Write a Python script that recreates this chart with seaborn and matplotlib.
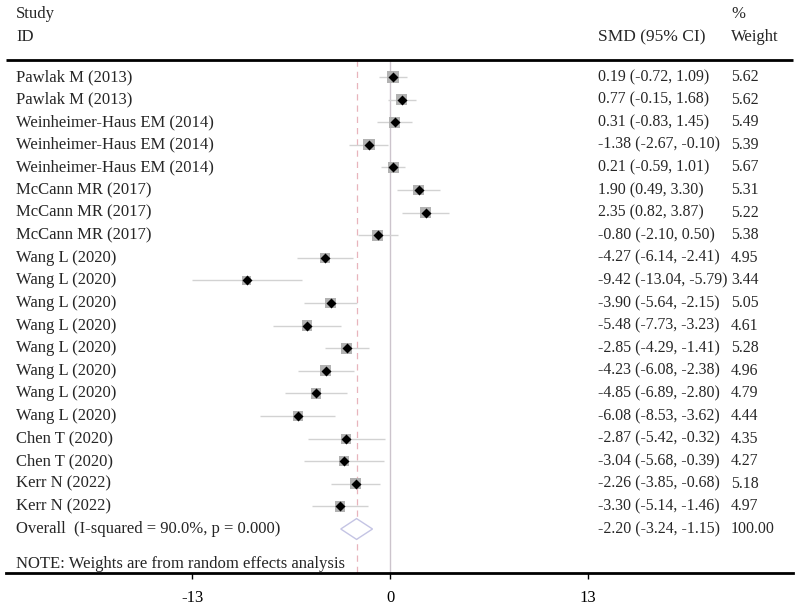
import matplotlib
matplotlib.use("Agg")
import matplotlib.pyplot as plt
import matplotlib.transforms as mtransforms
import seaborn as sns
import pandas as pd
import numpy as np

studies = ["Pawlak M (2013)", "Pawlak M (2013)", "Weinheimer-Haus EM (2014)",
           "Weinheimer-Haus EM (2014)", "Weinheimer-Haus EM (2014)", "McCann MR (2017)",
           "McCann MR (2017)", "McCann MR (2017)", "Wang L (2020)", "Wang L (2020)",
           "Wang L (2020)", "Wang L (2020)", "Wang L (2020)", "Wang L (2020)",
           "Wang L (2020)", "Wang L (2020)", "Chen T (2020)", "Chen T (2020)",
           "Kerr N (2022)", "Kerr N (2022)"]
smd = [0.19, 0.77, 0.31, -1.38, 0.21, 1.90, 2.35, -0.80, -4.27, -9.42,
       -3.90, -5.48, -2.85, -4.23, -4.85, -6.08, -2.87, -3.04, -2.26, -3.30]
ci_low = [-0.72, -0.15, -0.83, -2.67, -0.59, 0.49, 0.82, -2.10, -6.14, -13.04,
          -5.64, -7.73, -4.29, -6.08, -6.89, -8.53, -5.42, -5.68, -3.85, -5.14]
ci_high = [1.09, 1.68, 1.45, -0.10, 1.01, 3.30, 3.87, 0.50, -2.41, -5.79,
           -2.15, -3.23, -1.41, -2.38, -2.80, -3.62, -0.32, -0.39, -0.68, -1.46]
weights = [5.62, 5.62, 5.49, 5.39, 5.67, 5.31, 5.22, 5.38, 4.95, 3.44,
           5.05, 4.61, 5.28, 4.96, 4.79, 4.44, 4.35, 4.27, 5.18, 4.97]
overall_label = "Overall  (I-squared = 90.0%, p = 0.000)"
overall_est, overall_lo, overall_hi, overall_w = -2.20, -3.24, -1.15, 100.00
note = "NOTE: Weights are from random effects analysis"
xticks = [-13, 0, 13]

W, H = 798, 608
sns.set_theme(style="white")
plt.rcParams['font.family'] = ['Liberation Serif', 'DejaVu Serif']

fig = plt.figure(figsize=(W / 100, H / 100), dpi=100)
ax = fig.add_axes([0, 0, 1, 1])

# pixel mapping
px_per_unit = 15.2
zero_px = 390
row0_px = 77
row_px = 22.6
ax.set_xlim(-zero_px / px_per_unit, (W - zero_px) / px_per_unit)
ax.set_ylim((H - row0_px) / row_px, -row0_px / row_px)

def py(p):
    return (p - row0_px) / row_px

def px(p):
    return (p - zero_px) / px_per_unit

df = pd.DataFrame({"study": studies, "smd": smd, "lo": ci_low, "hi": ci_high,
                   "w": weights})
df["row"] = np.arange(len(df))

top_y = py(60)
axis_y = py(573)

# reference lines
ax.vlines(0, top_y, axis_y, color="#ccc4cc", lw=1.0, zorder=1)
ax.vlines(overall_est, top_y, axis_y, color="#e8b4bc", lw=0.9,
          linestyles=(0, (5, 4)), zorder=1)

# whiskers
ax.hlines(df["row"], df["lo"], df["hi"], color="#d2d2d2", lw=1.0, zorder=2)

# weight squares
sq_scale = 66.0 / 5.62
ax.scatter(df["smd"], df["row"], s=df["w"] * sq_scale, marker="s",
           color="#b2b2b2", linewidths=0, zorder=3)
# point estimates
sns.scatterplot(data=df, x="smd", y="row", marker="D", s=26, color="black",
                edgecolor="black", linewidth=0, ax=ax, zorder=4, legend=False)

# overall diamond
orow = len(df)
hh = 0.46
ax.fill([overall_lo, overall_est, overall_hi, overall_est],
        [orow, orow - hh, orow, orow + hh], facecolor="white",
        edgecolor="#c4c4e4", lw=1.0, zorder=3)

ax.set_xlabel("")
ax.set_ylabel("")

# horizontal rules
ax.hlines(top_y, px(6), px(793), color="black", lw=2.0, zorder=5)

# bottom axis
for s in ["top", "left", "right"]:
    ax.spines[s].set_visible(False)
ax.spines["bottom"].set_position(("data", axis_y))
ax.spines["bottom"].set_bounds(px(6), px(793))
ax.spines["bottom"].set_linewidth(2.0)
ax.spines["bottom"].set_color("black")
ax.set_xticks(xticks)
ax.set_xticklabels([str(t) for t in xticks])
ax.tick_params(axis="x", direction="out", length=4, width=1, pad=8,
               labelsize=12, colors="black", bottom=True)
ax.set_yticks([])
ax.grid(False)

tr = mtransforms.blended_transform_factory(ax.transAxes, ax.transData)
fs = 12
fs_num = 11.4
lx = 16 / W
cx = 598 / W
wx = 731 / W

ax.text(lx, py(14), "Study", transform=tr, fontsize=fs, va="center", ha="left")
ax.text(lx, py(37), "ID", transform=tr, fontsize=fs, va="center", ha="left")
ax.text(cx, py(37), "SMD (95% CI)", transform=tr, fontsize=12.5, va="center", ha="left")
ax.text(wx, py(14), "%", transform=tr, fontsize=fs, va="center", ha="left")
ax.text(wx, py(37), "Weight", transform=tr, fontsize=fs, va="center", ha="left")

for i, r in df.iterrows():
    ax.text(lx, r["row"], r["study"], transform=tr, fontsize=fs, va="center", ha="left")
    ax.text(cx, r["row"], f"{r['smd']:.2f} ({r['lo']:.2f}, {r['hi']:.2f})",
            transform=tr, fontsize=fs_num, va="center", ha="left")
    ax.text(wx, r["row"], f"{r['w']:.2f}", transform=tr, fontsize=fs_num,
            va="center", ha="left")

ax.text(lx, orow, overall_label, transform=tr, fontsize=fs, va="center", ha="left")
ax.text(cx, orow, f"{overall_est:.2f} ({overall_lo:.2f}, {overall_hi:.2f})",
        transform=tr, fontsize=fs_num, va="center", ha="left")
ax.text(wx, orow, f"{overall_w:.2f}", transform=tr, fontsize=fs_num, va="center", ha="left")

ax.text(lx, py(564), note, transform=tr, fontsize=fs, va="center", ha="left")

fig.savefig("out.png", dpi=100)
